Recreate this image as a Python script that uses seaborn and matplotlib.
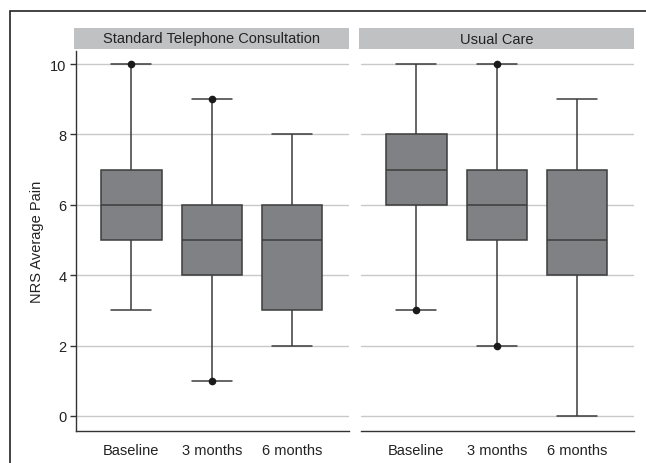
import matplotlib
matplotlib.use("Agg")
import matplotlib.pyplot as plt
import matplotlib.patches as mpatches
import seaborn as sns
import pandas as pd
import numpy as np

# ---- data ----
groups = ["Standard Telephone Consultation", "Usual Care"]
times = ["Baseline", "3 months", "6 months"]
# five-number summaries: min, Q1, median, Q3, max
stc_stats = {
    "Baseline": [3, 5, 6, 7, 10],
    "3 months": [1, 4, 5, 6, 9],
    "6 months": [2, 3, 5, 6, 8],
}
uc_stats = {
    "Baseline": [3, 6, 7, 8, 10],
    "3 months": [2, 5, 6, 7, 10],
    "6 months": [0, 4, 5, 7, 9],
}
# marked points (dots)
stc_dots = {"Baseline": [10], "3 months": [9, 1], "6 months": []}
uc_dots = {"Baseline": [3], "3 months": [10, 2], "6 months": []}
yticks = [0, 2, 4, 6, 8, 10]
ylabel = "NRS Average Pain"

def to_df(d):
    rows = [(t, v) for t in times for v in d[t]]
    return pd.DataFrame(rows, columns=["time", "value"])

sns.set_theme(style="white")
plt.rcParams["font.family"] = ["Liberation Sans", "DejaVu Sans"]

W, H = 646, 464
fig = plt.figure(figsize=(W / 100, H / 100), dpi=100)

def fx(px):
    return px / W

def fy(py):
    return 1 - py / H

ax_top, ax_bot = 52, 432
panels = [(76, 349), (361, 634)]
axes = []
for (l, r) in panels:
    ax = fig.add_axes([fx(l), fy(ax_bot), fx(r) - fx(l), fy(ax_top) - fy(ax_bot)])
    axes.append(ax)

box_color = "#808184"
edge_color = "#3c3c3c"
box_w = 0.75
cap_w = 0.5
for ax, g, st, dots in zip(axes, groups, [stc_stats, uc_stats], [stc_dots, uc_dots]):
    df = to_df(st)
    for yv in yticks:
        ax.axhline(yv, color="#c8c8c8", lw=1, zorder=0)
    n_before = len(ax.lines)
    sns.boxplot(data=df, x="time", y="value", order=times, whis=(0, 100),
                color=box_color, linecolor=edge_color, linewidth=1.1,
                width=box_w, saturation=1, ax=ax, zorder=2)
    # widen the whisker caps
    for ln in ax.lines[n_before:]:
        xd = np.asarray(ln.get_xdata(), dtype=float)
        yd = np.asarray(ln.get_ydata(), dtype=float)
        if len(xd) == 2 and yd[0] == yd[1]:
            span = abs(xd[1] - xd[0])
            if 0.05 < span < box_w * 0.9:
                c = xd.mean()
                ln.set_xdata([c - cap_w / 2, c + cap_w / 2])
    ddf = to_df(dots)
    sns.stripplot(data=ddf, x="time", y="value", order=times, jitter=False,
                  color="#1a1a1a", size=5.5, ax=ax, zorder=5)
    ax.set_xlim(-0.69, 2.71)
    ax.set_ylim(-0.43, 10.37)
    ax.set_xlabel("")
    ax.set_ylabel("")
    ax.set_yticks(yticks)
    for s in ["top", "right"]:
        ax.spines[s].set_visible(False)
    ax.spines["bottom"].set_color("#333333")
    ax.spines["bottom"].set_linewidth(1)
    ax.tick_params(axis="x", length=0, labelsize=10.5, colors="#222222", pad=9)
    # header strip
    l, b, w, h = ax.get_position().bounds
    fig.patches.append(mpatches.Rectangle((l - fx(2), fy(50)), w + fx(2), fy(29) - fy(50),
                                          transform=fig.transFigure, facecolor="#c0c1c3",
                                          edgecolor="none"))
    fig.text(l - fx(1) + w / 2, (fy(29) + fy(50)) / 2, g, ha="center", va="center",
             fontsize=10.5, color="#222222")

axes[0].spines["left"].set_color("#333333")
axes[0].spines["left"].set_linewidth(1)
axes[0].tick_params(axis="y", length=4, width=1, color="#333333", left=True,
                    labelsize=10.5, labelcolor="#222222", pad=3)
axes[0].set_ylabel(ylabel, fontsize=10.5, color="#222222", labelpad=4)
axes[1].spines["left"].set_visible(False)
axes[1].tick_params(axis="y", left=False, labelleft=False)

# outer border
fig.patches.append(mpatches.Rectangle((fx(10), fy(H + 20)), fx(W + 20) - fx(10), fy(12) - fy(H + 20),
                                      transform=fig.transFigure, facecolor="none",
                                      edgecolor="#222222", linewidth=1.2))

fig.savefig("out.png", dpi=100)
